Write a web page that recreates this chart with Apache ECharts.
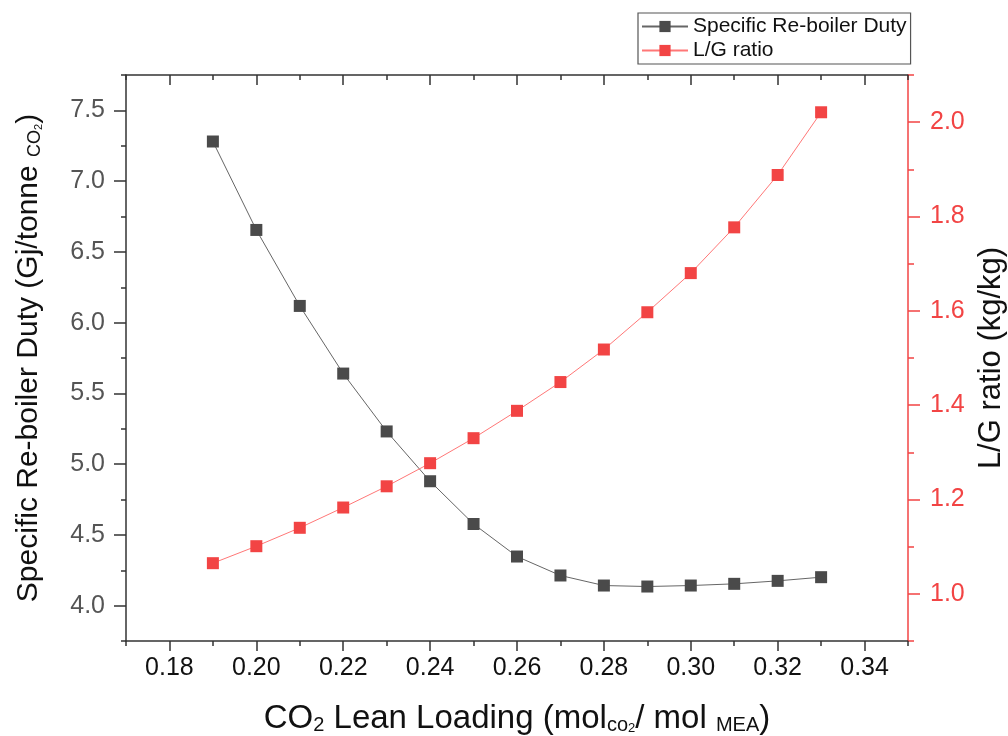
<!DOCTYPE html>
<html>
<head>
<meta charset="utf-8">
<script src="https://cdn.jsdelivr.net/npm/echarts@6/dist/echarts.min.js"></script>
<style>
html,body{margin:0;padding:0;background:#fff;}
#chart{width:1008px;height:736px;}
</style>
</head>
<body>
<div id="chart"></div>
<script>
// ---- data ----
const leanLoading = [0.19, 0.20, 0.21, 0.22, 0.23, 0.24, 0.25, 0.26, 0.27, 0.28, 0.29, 0.30, 0.31, 0.32, 0.33];
const reboilerDuty = [7.28, 6.655, 6.118, 5.640, 5.231, 4.879, 4.577, 4.347, 4.213, 4.142, 4.135, 4.142, 4.154, 4.175, 4.201];
const lgRatio = [1.065, 1.101, 1.140, 1.183, 1.228, 1.277, 1.330, 1.388, 1.449, 1.518, 1.597, 1.680, 1.777, 1.888, 2.021];
const xMajorTicks = [0.18, 0.20, 0.22, 0.24, 0.26, 0.28, 0.30, 0.32, 0.34];
const xMinorTicks = [0.17, 0.19, 0.21, 0.23, 0.25, 0.27, 0.29, 0.31, 0.33, 0.35];
const yLeftMajorTicks = [4.0, 4.5, 5.0, 5.5, 6.0, 6.5, 7.0, 7.5];
const yLeftMinorTicks = [3.75, 4.25, 4.75, 5.25, 5.75, 6.25, 6.75, 7.25, 7.75];
const yRightMajorTicks = [1.0, 1.2, 1.4, 1.6, 1.8, 2.0];
const yRightMinorTicks = [0.9, 1.1, 1.3, 1.5, 1.7, 1.9, 2.1];
const seriesNames = ['Specific Re-boiler Duty', 'L/G ratio'];

const FONT = "'Liberation Sans', Arial, sans-serif";
const AX = '#333';
const RED = '#f24444';

const chart = echarts.init(document.getElementById('chart'), null, {renderer: 'canvas'});

function xAx(pos, ticks, len, inside, labels, line) {
  return {
    type: 'value', position: pos, min: 0.17, max: 0.35,
    splitLine: {show: false},
    axisLine: {show: line, onZero: false, lineStyle: {color: AX, width: 1.5}},
    axisTick: {show: true, inside: inside, length: len, customValues: ticks, lineStyle: {color: AX, width: 1.5}},
    axisLabel: labels ? {show: true, customValues: xMajorTicks, formatter: v => v.toFixed(2), fontSize: 25, color: '#111', fontFamily: FONT, margin: 15} : {show: false}
  };
}

const option = {
  backgroundColor: '#fff',
  animation: false,
  grid: {left: 126, right: 100, top: 75, bottom: 95, containLabel: false, outerBoundsMode: 'none'},
  legend: {
    orient: 'vertical', left: 638, top: 13,
    data: seriesNames,
    itemWidth: 46, itemHeight: 14, itemGap: 3,
    padding: [3, 4, 3, 3],
    borderColor: '#555', borderWidth: 1.2,
    textStyle: {fontSize: 21, fontFamily: FONT, color: '#111', lineHeight: 20}
  },
  xAxis: [
    Object.assign(xAx('bottom', xMajorTicks, 10, false, true, true), {
      name: 'CO{s|2} Lean Loading (mol{s|co}{ss|2}/ mol {s|MEA})',
      nameLocation: 'middle', nameGap: 61,
      nameTextStyle: {fontSize: 33, fontFamily: FONT, color: '#111',
        rich: {s: {fontSize: 20, fontFamily: FONT, color: '#111', verticalAlign: 'bottom'},
               ss: {fontSize: 13, fontFamily: FONT, color: '#111', verticalAlign: 'bottom'}}}
    }),
    xAx('bottom', xMinorTicks, 5, false, false, false),
    xAx('top', xMajorTicks, 10, true, false, true),
    xAx('top', xMinorTicks, 5, true, false, false)
  ],
  yAxis: [
    {
      type: 'value', position: 'left', min: 3.75, max: 7.75,
      splitLine: {show: false},
      axisLine: {show: true, onZero: false, lineStyle: {color: AX, width: 1.5}},
      axisTick: {show: true, length: 12, customValues: yLeftMajorTicks, lineStyle: {color: AX, width: 1.5}},
      axisLabel: {customValues: yLeftMajorTicks, formatter: v => v.toFixed(1), fontSize: 25, color: '#555', fontFamily: FONT, margin: 21},
      name: 'Specific Re-boiler Duty (Gj/tonne {s|CO}{ss|2})',
      nameLocation: 'middle', nameRotate: 90, nameGap: 82,
      nameTextStyle: {fontSize: 30, fontFamily: FONT, color: '#111',
        rich: {s: {fontSize: 18, fontFamily: FONT, color: '#111', verticalAlign: 'bottom'},
               ss: {fontSize: 11, fontFamily: FONT, color: '#111', verticalAlign: 'bottom'}}}
    },
    {
      type: 'value', position: 'left', min: 3.75, max: 7.75,
      splitLine: {show: false}, axisLine: {show: false},
      axisTick: {show: true, length: 5, customValues: yLeftMinorTicks, lineStyle: {color: AX, width: 1.5}},
      axisLabel: {show: false}
    },
    {
      type: 'value', position: 'right', min: 0.9, max: 2.1,
      splitLine: {show: false},
      axisLine: {show: true, onZero: false, lineStyle: {color: RED, width: 1.5}},
      axisTick: {show: true, length: 12, customValues: yRightMajorTicks, lineStyle: {color: RED, width: 1.5}},
      axisLabel: {customValues: yRightMajorTicks, formatter: v => v.toFixed(1), fontSize: 25, color: RED, fontFamily: FONT, margin: 22},
      name: 'L/G ratio (kg/kg)',
      nameLocation: 'middle', nameRotate: 90, nameGap: 61,
      nameTextStyle: {fontSize: 31, fontFamily: FONT, color: '#111'}
    },
    {
      type: 'value', position: 'right', min: 0.9, max: 2.1,
      splitLine: {show: false}, axisLine: {show: false},
      axisTick: {show: true, length: 6, customValues: yRightMinorTicks, lineStyle: {color: RED, width: 1.5}},
      axisLabel: {show: false}
    }
  ],
  series: [
    {
      name: seriesNames[0], type: 'line', xAxisIndex: 0, yAxisIndex: 0,
      data: leanLoading.map((x, i) => [x, reboilerDuty[i]]),
      symbol: 'rect', symbolSize: 12,
      itemStyle: {color: '#4a4a4a'},
      lineStyle: {color: '#666', width: 1}
    },
    {
      name: seriesNames[1], type: 'line', xAxisIndex: 0, yAxisIndex: 2,
      data: leanLoading.map((x, i) => [x, lgRatio[i]]),
      symbol: 'rect', symbolSize: 12,
      itemStyle: {color: RED},
      lineStyle: {color: '#f77', width: 1}
    }
  ]
};
chart.setOption(option);
</script>
</body>
</html>
